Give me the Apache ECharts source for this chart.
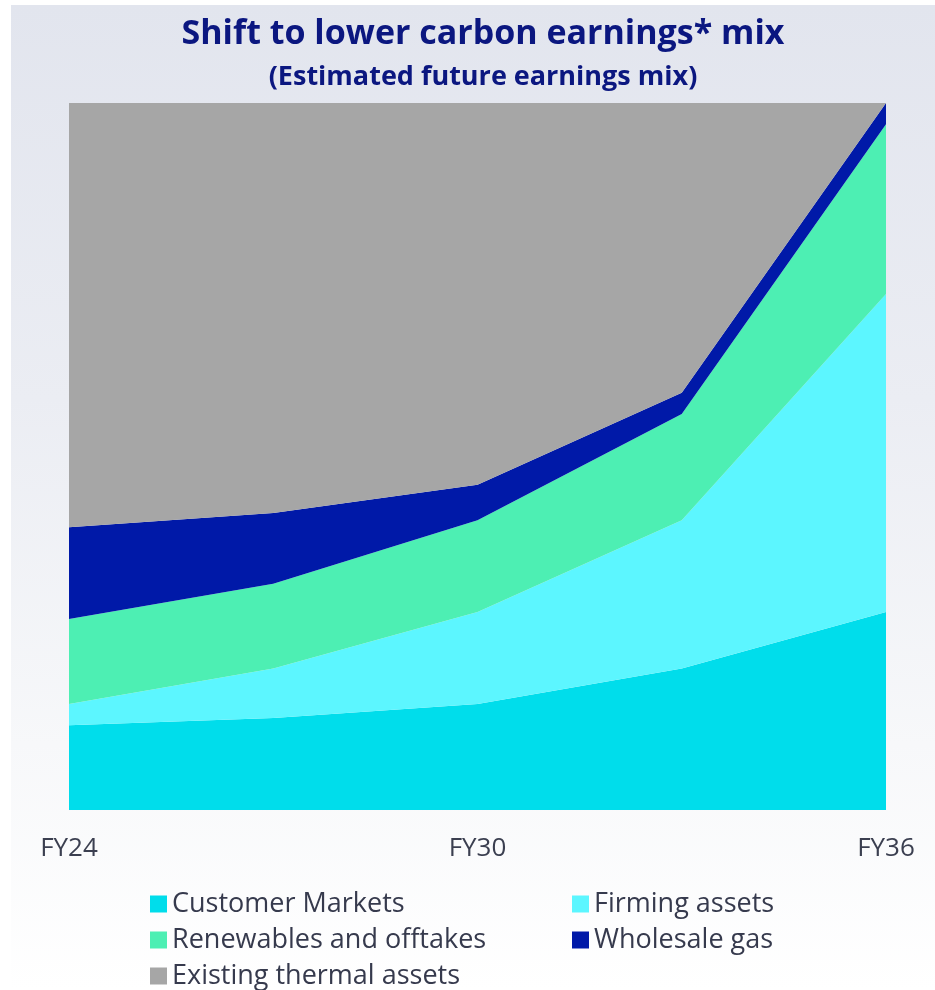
<!DOCTYPE html>
<html>
<head>
<meta charset="utf-8">
<script src="https://cdn.jsdelivr.net/npm/echarts@6/dist/echarts.min.js"></script>
<style>
html,body{margin:0;padding:0;background:#ffffff;}
#bg{position:absolute;left:11px;top:5px;width:924px;height:985px;background:linear-gradient(to bottom,#E2E5EE 0%,#EBEDF3 40%,#F7F8FA 75%,#FFFFFF 100%);}
#chart{position:absolute;left:0;top:0;width:935px;height:990px;}
</style>
</head>
<body>
<div id="bg"></div>
<div id="chart"></div>
<script>
const categories = ['FY24', 'FY27', 'FY30', 'FY33', 'FY36'];
const customerMarkets = [12, 13, 15, 20, 28];
const firmingAssets = [3, 7, 13, 21, 45];
const renewables = [12, 12, 13, 15, 24];
const wholesaleGas = [13, 10, 5, 3, 3];
const existingThermal = [60, 58, 54, 41, 0];

const names = ['Customer Markets', 'Firming assets', 'Renewables and offtakes', 'Wholesale gas', 'Existing thermal assets'];
const colors = ['#00DDEB', '#5CF6FF', '#4DEFB3', '#0019A8', '#A6A6A6'];
const values = [customerMarkets, firmingAssets, renewables, wholesaleGas, existingThermal];

const chart = echarts.init(document.getElementById('chart'));
const legendText = { fontFamily: 'Open Sans', fontSize: 27, color: '#363A4D', lineHeight: 28 };
const legendBase = { orient: 'vertical', top: 890, height: 110, padding: 0,
  itemWidth: 17, itemHeight: 17, itemGap: 8, icon: 'rect', textStyle: legendText, selectedMode: false };
chart.setOption({
  backgroundColor: 'transparent',
  animation: false,
  title: [
    { text: 'Shift to lower carbon earnings* mix', left: 478, top: 12, textAlign: 'center',
      textStyle: { fontFamily: 'Open Sans', fontWeight: 'bold', fontSize: 34, color: '#0B1780' } },
    { text: '(Estimated future earnings mix)', left: 478, top: 59, textAlign: 'center',
      textStyle: { fontFamily: 'Open Sans', fontWeight: 'bold', fontSize: 27, color: '#0B1780' } }
  ],
  legend: [
    Object.assign({ data: [names[0], names[2], names[4]], left: 150 }, legendBase),
    Object.assign({ data: [names[1], names[3]], left: 572 }, legendBase)
  ],
  grid: { left: 69, right: 49, top: 103, bottom: 180 },
  xAxis: {
    type: 'category', boundaryGap: false, data: categories,
    axisLine: { show: false }, axisTick: { show: false },
    axisLabel: { interval: 1, margin: 26, fontFamily: 'Open Sans', fontSize: 26, color: '#3B3F50' }
  },
  yAxis: { type: 'value', min: 0, max: 100, show: false, splitLine: { show: false } },
  series: names.map((n, i) => ({
    name: n, type: 'line', stack: 'total', data: values[i],
    symbol: 'none', lineStyle: { width: 0 }, itemStyle: { color: colors[i] },
    areaStyle: { color: colors[i], opacity: 1 }
  }))
});
</script>
</body>
</html>
